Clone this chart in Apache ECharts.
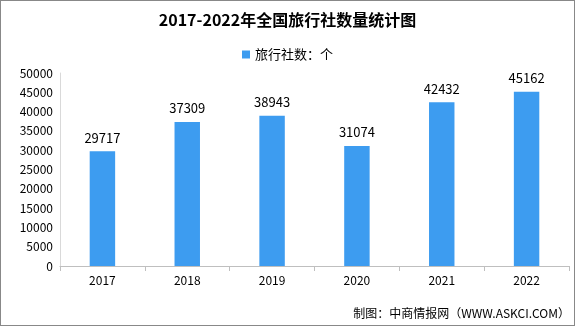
<!DOCTYPE html>
<html><head><meta charset="utf-8">
<script src="https://cdn.jsdelivr.net/npm/echarts@6/dist/echarts.min.js"></script>
<style>html,body{margin:0;padding:0;background:#fff}#c{width:575px;height:326px;box-sizing:border-box;border:1px solid #888;}</style>
</head><body><div id="c"></div>
<script>
const categories = ['2017','2018','2019','2020','2021','2022'];
const values = [29717, 37309, 38943, 31074, 42432, 45162];
const seriesName = '旅行社数：个';
const title = '2017-2022年全国旅行社数量统计图';
const source = '制图：中商情报网（WWW.ASKCI.COM）';
const chart = echarts.init(document.getElementById('c'));
chart.setOption({
  animation: false,
  title: {text: title, left: 'center', top: 6, textStyle: {fontFamily: 'Noto Sans CJK SC', fontWeight: 'bold', fontSize: 16, color: '#000'}},
  legend: {data: [seriesName], top: 42, left: 'center', icon: 'rect', itemWidth: 8, itemHeight: 8, itemGap: 4, textStyle: {fontFamily: 'Noto Sans CJK SC', fontSize: 13, color: '#000'}},
  graphic: [{type: 'text', right: 4, bottom: 6, style: {text: source, font: '12px "Noto Sans CJK SC"', fill: '#000'}}],
  grid: {left: 59, right: 5, top: 72, bottom: 59},
  xAxis: {type: 'category', data: categories,
    axisLine: {lineStyle: {color: '#bfbfbf'}}, axisTick: {show: true, lineStyle: {color: '#bfbfbf'}},
    axisLabel: {color: '#000', fontSize: 12, fontFamily: 'Noto Sans CJK SC', margin: 8}},
  yAxis: {type: 'value', min: 0, max: 50000, interval: 5000,
    axisLine: {show: true, lineStyle: {color: '#d9d9d9'}}, axisTick: {show: false}, splitLine: {show: false},
    axisLabel: {color: '#000', fontSize: 12, fontFamily: 'Noto Sans CJK SC', margin: 7, formatter: v => String(v)}},
  series: [{name: seriesName, type: 'bar', data: values, barWidth: '30%',
    itemStyle: {color: '#3d9cf0'},
    label: {show: true, position: 'top', distance: 7, color: '#000', fontSize: 13, fontFamily: 'Noto Sans CJK SC'}}]
});
</script></body></html>
